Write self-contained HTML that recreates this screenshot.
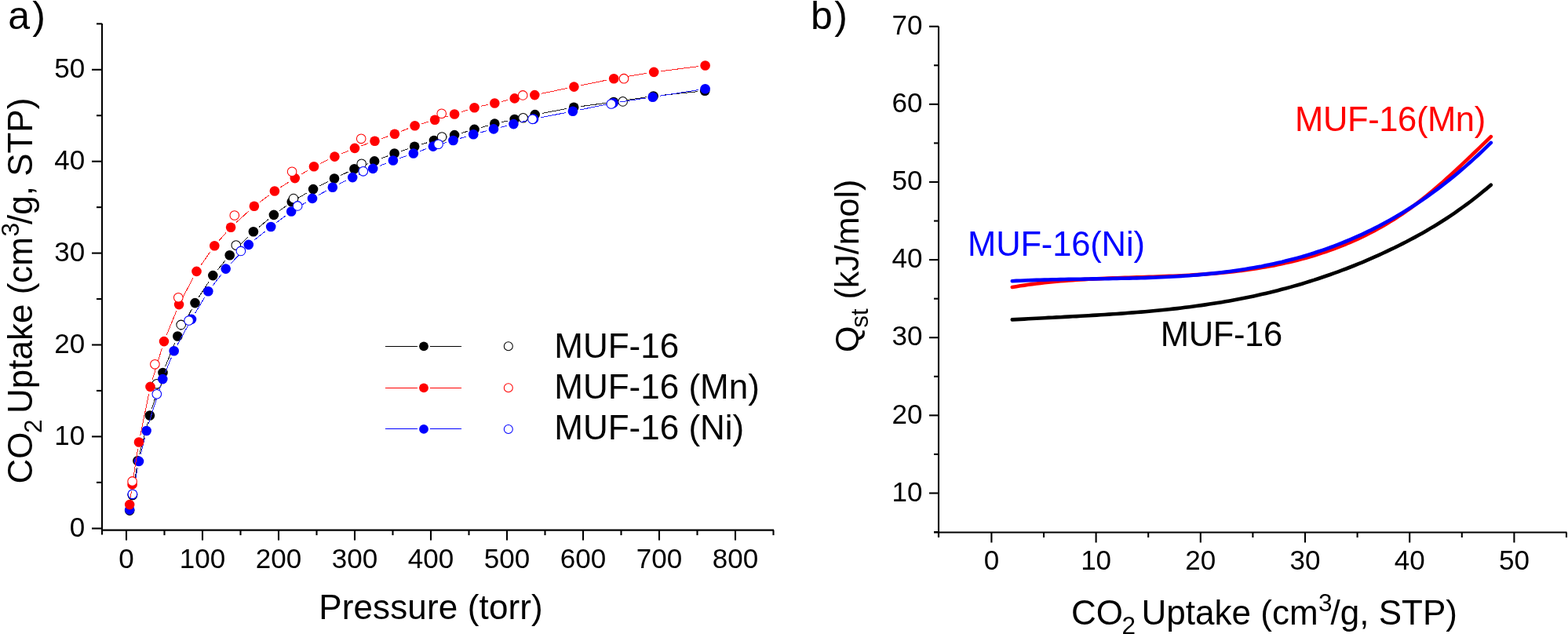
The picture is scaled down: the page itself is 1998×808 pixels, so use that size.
<!DOCTYPE html>
<html><head><meta charset="utf-8"><title>CO2 uptake and Qst plots</title>
<style>
html,body{margin:0;padding:0;background:#fff;}
svg{display:block;font-family:'Liberation Sans', Arial, Helvetica, sans-serif;}
</style></head>
<body>
<svg width="1998" height="808" viewBox="0 0 1998 808">
<rect x="0" y="0" width="1998" height="808" fill="#fff"/>
<line x1="130.00" y1="30.00" x2="130.00" y2="681.50" stroke="#000" stroke-width="2.1" stroke-linecap="butt"/>
<line x1="130.00" y1="675.60" x2="986.00" y2="675.60" stroke="#000" stroke-width="2.1" stroke-linecap="butt"/>
<line x1="117.00" y1="673.50" x2="130.00" y2="673.50" stroke="#000" stroke-width="2.1" stroke-linecap="butt"/>
<line x1="123.00" y1="614.85" x2="130.00" y2="614.85" stroke="#000" stroke-width="2.1" stroke-linecap="butt"/>
<line x1="117.00" y1="556.40" x2="130.00" y2="556.40" stroke="#000" stroke-width="2.1" stroke-linecap="butt"/>
<line x1="123.00" y1="497.95" x2="130.00" y2="497.95" stroke="#000" stroke-width="2.1" stroke-linecap="butt"/>
<line x1="117.00" y1="439.50" x2="130.00" y2="439.50" stroke="#000" stroke-width="2.1" stroke-linecap="butt"/>
<line x1="123.00" y1="381.05" x2="130.00" y2="381.05" stroke="#000" stroke-width="2.1" stroke-linecap="butt"/>
<line x1="117.00" y1="322.60" x2="130.00" y2="322.60" stroke="#000" stroke-width="2.1" stroke-linecap="butt"/>
<line x1="123.00" y1="264.15" x2="130.00" y2="264.15" stroke="#000" stroke-width="2.1" stroke-linecap="butt"/>
<line x1="117.00" y1="205.70" x2="130.00" y2="205.70" stroke="#000" stroke-width="2.1" stroke-linecap="butt"/>
<line x1="123.00" y1="147.25" x2="130.00" y2="147.25" stroke="#000" stroke-width="2.1" stroke-linecap="butt"/>
<line x1="117.00" y1="88.80" x2="130.00" y2="88.80" stroke="#000" stroke-width="2.1" stroke-linecap="butt"/>
<line x1="123.00" y1="30.35" x2="130.00" y2="30.35" stroke="#000" stroke-width="2.1" stroke-linecap="butt"/>
<line x1="161.00" y1="675.60" x2="161.00" y2="688.60" stroke="#000" stroke-width="2.1" stroke-linecap="butt"/>
<line x1="209.50" y1="675.60" x2="209.50" y2="682.10" stroke="#000" stroke-width="2.1" stroke-linecap="butt"/>
<line x1="258.00" y1="675.60" x2="258.00" y2="688.60" stroke="#000" stroke-width="2.1" stroke-linecap="butt"/>
<line x1="306.50" y1="675.60" x2="306.50" y2="682.10" stroke="#000" stroke-width="2.1" stroke-linecap="butt"/>
<line x1="355.00" y1="675.60" x2="355.00" y2="688.60" stroke="#000" stroke-width="2.1" stroke-linecap="butt"/>
<line x1="403.50" y1="675.60" x2="403.50" y2="682.10" stroke="#000" stroke-width="2.1" stroke-linecap="butt"/>
<line x1="452.00" y1="675.60" x2="452.00" y2="688.60" stroke="#000" stroke-width="2.1" stroke-linecap="butt"/>
<line x1="500.50" y1="675.60" x2="500.50" y2="682.10" stroke="#000" stroke-width="2.1" stroke-linecap="butt"/>
<line x1="549.00" y1="675.60" x2="549.00" y2="688.60" stroke="#000" stroke-width="2.1" stroke-linecap="butt"/>
<line x1="597.50" y1="675.60" x2="597.50" y2="682.10" stroke="#000" stroke-width="2.1" stroke-linecap="butt"/>
<line x1="646.00" y1="675.60" x2="646.00" y2="688.60" stroke="#000" stroke-width="2.1" stroke-linecap="butt"/>
<line x1="694.50" y1="675.60" x2="694.50" y2="682.10" stroke="#000" stroke-width="2.1" stroke-linecap="butt"/>
<line x1="743.00" y1="675.60" x2="743.00" y2="688.60" stroke="#000" stroke-width="2.1" stroke-linecap="butt"/>
<line x1="791.50" y1="675.60" x2="791.50" y2="682.10" stroke="#000" stroke-width="2.1" stroke-linecap="butt"/>
<line x1="840.00" y1="675.60" x2="840.00" y2="688.60" stroke="#000" stroke-width="2.1" stroke-linecap="butt"/>
<line x1="888.50" y1="675.60" x2="888.50" y2="682.10" stroke="#000" stroke-width="2.1" stroke-linecap="butt"/>
<line x1="937.00" y1="675.60" x2="937.00" y2="688.60" stroke="#000" stroke-width="2.1" stroke-linecap="butt"/>
<line x1="985.50" y1="675.60" x2="985.50" y2="682.10" stroke="#000" stroke-width="2.1" stroke-linecap="butt"/>
<text x="108.30" y="683.80" font-size="35" text-anchor="end" fill="#000" >0</text>
<text x="108.30" y="566.90" font-size="35" text-anchor="end" fill="#000" >10</text>
<text x="108.30" y="450.00" font-size="35" text-anchor="end" fill="#000" >20</text>
<text x="108.30" y="333.10" font-size="35" text-anchor="end" fill="#000" >30</text>
<text x="108.30" y="216.20" font-size="35" text-anchor="end" fill="#000" >40</text>
<text x="108.30" y="99.30" font-size="35" text-anchor="end" fill="#000" >50</text>
<text x="161.00" y="723.90" font-size="35" text-anchor="middle" fill="#000" >0</text>
<text x="258.00" y="723.90" font-size="35" text-anchor="middle" fill="#000" >100</text>
<text x="355.00" y="723.90" font-size="35" text-anchor="middle" fill="#000" >200</text>
<text x="452.00" y="723.90" font-size="35" text-anchor="middle" fill="#000" >300</text>
<text x="549.00" y="723.90" font-size="35" text-anchor="middle" fill="#000" >400</text>
<text x="646.00" y="723.90" font-size="35" text-anchor="middle" fill="#000" >500</text>
<text x="743.00" y="723.90" font-size="35" text-anchor="middle" fill="#000" >600</text>
<text x="840.00" y="723.90" font-size="35" text-anchor="middle" fill="#000" >700</text>
<text x="937.00" y="723.90" font-size="35" text-anchor="middle" fill="#000" >800</text>
<text x="406.20" y="789.20" font-size="44" text-anchor="start" fill="#000" letter-spacing="0.14">Pressure (torr)</text>
<g transform="translate(40.6,614.6) rotate(-90)"><text x="-2" y="0" font-size="44">CO</text><text x="62.6" y="12.1" font-size="31.5">2</text><text x="87.6" y="0" font-size="44">Uptake (cm</text><text x="313.1" y="-17" font-size="31.5">3</text><text x="328.6" y="0" font-size="44">/g, STP)</text></g>
<text x="10.25" y="36.60" font-size="50" text-anchor="start" fill="#000" >a</text>
<text x="41.30" y="36.60" font-size="50" text-anchor="start" fill="#000" >)</text>
<line x1="1196.00" y1="33.50" x2="1196.00" y2="684.50" stroke="#000" stroke-width="2.1" stroke-linecap="butt"/>
<line x1="1190.00" y1="678.50" x2="1996.50" y2="678.50" stroke="#000" stroke-width="2.1" stroke-linecap="butt"/>
<line x1="1190.00" y1="678.07" x2="1196.00" y2="678.07" stroke="#000" stroke-width="2.1" stroke-linecap="butt"/>
<line x1="1184.00" y1="628.50" x2="1196.00" y2="628.50" stroke="#000" stroke-width="2.1" stroke-linecap="butt"/>
<line x1="1190.00" y1="578.93" x2="1196.00" y2="578.93" stroke="#000" stroke-width="2.1" stroke-linecap="butt"/>
<line x1="1184.00" y1="529.37" x2="1196.00" y2="529.37" stroke="#000" stroke-width="2.1" stroke-linecap="butt"/>
<line x1="1190.00" y1="479.81" x2="1196.00" y2="479.81" stroke="#000" stroke-width="2.1" stroke-linecap="butt"/>
<line x1="1184.00" y1="430.24" x2="1196.00" y2="430.24" stroke="#000" stroke-width="2.1" stroke-linecap="butt"/>
<line x1="1190.00" y1="380.67" x2="1196.00" y2="380.67" stroke="#000" stroke-width="2.1" stroke-linecap="butt"/>
<line x1="1184.00" y1="331.11" x2="1196.00" y2="331.11" stroke="#000" stroke-width="2.1" stroke-linecap="butt"/>
<line x1="1190.00" y1="281.55" x2="1196.00" y2="281.55" stroke="#000" stroke-width="2.1" stroke-linecap="butt"/>
<line x1="1184.00" y1="231.98" x2="1196.00" y2="231.98" stroke="#000" stroke-width="2.1" stroke-linecap="butt"/>
<line x1="1190.00" y1="182.41" x2="1196.00" y2="182.41" stroke="#000" stroke-width="2.1" stroke-linecap="butt"/>
<line x1="1184.00" y1="132.85" x2="1196.00" y2="132.85" stroke="#000" stroke-width="2.1" stroke-linecap="butt"/>
<line x1="1190.00" y1="83.28" x2="1196.00" y2="83.28" stroke="#000" stroke-width="2.1" stroke-linecap="butt"/>
<line x1="1184.00" y1="33.72" x2="1196.00" y2="33.72" stroke="#000" stroke-width="2.1" stroke-linecap="butt"/>
<line x1="1196.00" y1="678.50" x2="1196.00" y2="685.00" stroke="#000" stroke-width="2.1" stroke-linecap="butt"/>
<line x1="1263.40" y1="678.50" x2="1263.40" y2="691.50" stroke="#000" stroke-width="2.1" stroke-linecap="butt"/>
<line x1="1330.00" y1="678.50" x2="1330.00" y2="685.00" stroke="#000" stroke-width="2.1" stroke-linecap="butt"/>
<line x1="1396.60" y1="678.50" x2="1396.60" y2="691.50" stroke="#000" stroke-width="2.1" stroke-linecap="butt"/>
<line x1="1463.20" y1="678.50" x2="1463.20" y2="685.00" stroke="#000" stroke-width="2.1" stroke-linecap="butt"/>
<line x1="1529.80" y1="678.50" x2="1529.80" y2="691.50" stroke="#000" stroke-width="2.1" stroke-linecap="butt"/>
<line x1="1596.40" y1="678.50" x2="1596.40" y2="685.00" stroke="#000" stroke-width="2.1" stroke-linecap="butt"/>
<line x1="1663.00" y1="678.50" x2="1663.00" y2="691.50" stroke="#000" stroke-width="2.1" stroke-linecap="butt"/>
<line x1="1729.60" y1="678.50" x2="1729.60" y2="685.00" stroke="#000" stroke-width="2.1" stroke-linecap="butt"/>
<line x1="1796.20" y1="678.50" x2="1796.20" y2="691.50" stroke="#000" stroke-width="2.1" stroke-linecap="butt"/>
<line x1="1862.80" y1="678.50" x2="1862.80" y2="685.00" stroke="#000" stroke-width="2.1" stroke-linecap="butt"/>
<line x1="1929.40" y1="678.50" x2="1929.40" y2="691.50" stroke="#000" stroke-width="2.1" stroke-linecap="butt"/>
<line x1="1996.00" y1="678.50" x2="1996.00" y2="685.00" stroke="#000" stroke-width="2.1" stroke-linecap="butt"/>
<text x="1175.50" y="638.70" font-size="35" text-anchor="end" fill="#000" >10</text>
<text x="1175.50" y="539.57" font-size="35" text-anchor="end" fill="#000" >20</text>
<text x="1175.50" y="440.44" font-size="35" text-anchor="end" fill="#000" >30</text>
<text x="1175.50" y="341.31" font-size="35" text-anchor="end" fill="#000" >40</text>
<text x="1175.50" y="242.18" font-size="35" text-anchor="end" fill="#000" >50</text>
<text x="1175.50" y="143.05" font-size="35" text-anchor="end" fill="#000" >60</text>
<text x="1175.50" y="43.92" font-size="35" text-anchor="end" fill="#000" >70</text>
<text x="1263.40" y="726.00" font-size="35" text-anchor="middle" fill="#000" >0</text>
<text x="1396.60" y="726.00" font-size="35" text-anchor="middle" fill="#000" >10</text>
<text x="1529.80" y="726.00" font-size="35" text-anchor="middle" fill="#000" >20</text>
<text x="1663.00" y="726.00" font-size="35" text-anchor="middle" fill="#000" >30</text>
<text x="1796.20" y="726.00" font-size="35" text-anchor="middle" fill="#000" >40</text>
<text x="1929.40" y="726.00" font-size="35" text-anchor="middle" fill="#000" >50</text>
<g transform="translate(1367,795.9)"><text x="-2" y="0" font-size="44">CO</text><text x="62.6" y="12.1" font-size="31.5">2</text><text x="87.6" y="0" font-size="44">Uptake (cm</text><text x="313.1" y="-17" font-size="31.5">3</text><text x="328.6" y="0" font-size="44">/g, STP)</text></g>
<g transform="translate(1094.3,446.9) rotate(-90)"><text x="-2" y="0" font-size="43">Q</text><text x="29.4" y="11.2" font-size="31">st</text><text x="65.3" y="0" font-size="43">(kJ/mol)</text></g>
<text x="1033.10" y="36.60" font-size="50" text-anchor="start" fill="#000" >b</text>
<text x="1063.30" y="36.60" font-size="50" text-anchor="start" fill="#000" >)</text>
<polyline points="1289.8,407.4 1294.9,407.1 1300.1,406.9 1305.2,406.6 1310.3,406.3 1315.4,406.0 1320.6,405.7 1325.7,405.5 1330.8,405.2 1335.9,404.9 1341.1,404.7 1346.2,404.4 1351.3,404.2 1356.4,403.9 1361.6,403.6 1366.7,403.3 1371.8,403.1 1376.9,402.8 1382.1,402.5 1387.2,402.2 1392.3,401.9 1397.4,401.6 1402.6,401.3 1407.7,401.0 1412.8,400.6 1418.0,400.3 1423.1,400.0 1428.2,399.6 1433.3,399.2 1438.5,398.8 1443.6,398.4 1448.7,398.0 1453.8,397.6 1459.0,397.2 1464.1,396.7 1469.2,396.3 1474.3,395.8 1479.5,395.3 1484.6,394.7 1489.7,394.2 1494.8,393.6 1500.0,393.1 1505.1,392.5 1510.2,391.8 1515.3,391.2 1520.5,390.5 1525.6,389.8 1530.7,389.1 1535.9,388.4 1541.0,387.6 1546.1,386.8 1551.2,386.0 1556.4,385.2 1561.5,384.3 1566.6,383.4 1571.7,382.5 1576.9,381.5 1582.0,380.5 1587.1,379.5 1592.2,378.5 1597.4,377.4 1602.5,376.3 1607.6,375.1 1612.7,373.9 1617.9,372.7 1623.0,371.4 1628.1,370.2 1633.2,368.8 1638.4,367.5 1643.5,366.1 1648.6,364.6 1653.7,363.2 1658.9,361.7 1664.0,360.1 1669.1,358.5 1674.3,356.9 1679.4,355.2 1684.5,353.5 1689.6,351.8 1694.8,350.0 1699.9,348.2 1705.0,346.3 1710.1,344.4 1715.3,342.5 1720.4,340.5 1725.5,338.5 1730.6,336.4 1735.8,334.3 1740.9,332.1 1746.0,329.9 1751.1,327.7 1756.3,325.4 1761.4,323.0 1766.5,320.6 1771.6,318.2 1776.8,315.7 1781.9,313.2 1787.0,310.6 1792.2,308.0 1797.3,305.3 1802.4,302.6 1807.5,299.8 1812.7,296.9 1817.8,294.0 1822.9,290.9 1828.0,287.9 1833.2,284.7 1838.3,281.5 1843.4,278.2 1848.5,274.8 1853.7,271.3 1858.8,267.7 1863.9,264.0 1869.0,260.3 1874.2,256.5 1879.3,252.5 1884.4,248.5 1889.5,244.3 1894.7,240.1 1899.8,235.7" fill="none" stroke="#000" stroke-width="4.6" stroke-linecap="round" stroke-linejoin="round"/>
<polyline points="1289.8,366.0 1294.9,365.2 1300.1,364.3 1305.2,363.6 1310.3,362.8 1315.4,362.1 1320.6,361.5 1325.7,360.9 1330.8,360.3 1335.9,359.7 1341.1,359.2 1346.2,358.7 1351.3,358.3 1356.4,357.9 1361.6,357.5 1366.7,357.1 1371.8,356.7 1376.9,356.4 1382.1,356.1 1387.2,355.8 1392.3,355.6 1397.4,355.3 1402.6,355.1 1407.7,354.8 1412.8,354.6 1418.0,354.4 1423.1,354.2 1428.2,354.1 1433.3,353.9 1438.5,353.7 1443.6,353.5 1448.7,353.4 1453.8,353.2 1459.0,353.0 1464.1,352.9 1469.2,352.7 1474.3,352.5 1479.5,352.3 1484.6,352.1 1489.7,351.9 1494.8,351.7 1500.0,351.5 1505.1,351.2 1510.2,351.0 1515.3,350.7 1520.5,350.4 1525.6,350.1 1530.7,349.7 1535.9,349.4 1541.0,349.0 1546.1,348.6 1551.2,348.2 1556.4,347.7 1561.5,347.2 1566.6,346.7 1571.7,346.1 1576.9,345.5 1582.0,344.9 1587.1,344.2 1592.2,343.5 1597.4,342.8 1602.5,342.0 1607.6,341.1 1612.7,340.3 1617.9,339.3 1623.0,338.4 1628.1,337.3 1633.2,336.3 1638.4,335.1 1643.5,334.0 1648.6,332.7 1653.7,331.4 1658.9,330.1 1664.0,328.7 1669.1,327.2 1674.3,325.7 1679.4,324.1 1684.5,322.4 1689.6,320.7 1694.8,318.9 1699.9,317.0 1705.0,315.1 1710.1,313.1 1715.3,311.0 1720.4,308.8 1725.5,306.6 1730.6,304.3 1735.8,301.9 1740.9,299.4 1746.0,296.8 1751.1,294.1 1756.3,291.3 1761.4,288.4 1766.5,285.5 1771.6,282.4 1776.8,279.2 1781.9,275.9 1787.0,272.5 1792.2,268.9 1797.3,265.3 1802.4,261.5 1807.5,257.6 1812.7,253.6 1817.8,249.5 1822.9,245.3 1828.0,241.0 1833.2,236.6 1838.3,232.1 1843.4,227.5 1848.5,222.9 1853.7,218.2 1858.8,213.5 1863.9,208.7 1869.0,203.8 1874.2,198.9 1879.3,194.0 1884.4,189.1 1889.5,184.1 1894.7,179.1 1899.8,174.2" fill="none" stroke="#f00" stroke-width="4.6" stroke-linecap="round" stroke-linejoin="round"/>
<polyline points="1289.8,358.2 1294.9,357.9 1300.1,357.7 1305.2,357.5 1310.3,357.3 1315.4,357.1 1320.6,356.9 1325.7,356.7 1330.8,356.6 1335.9,356.5 1341.1,356.3 1346.2,356.2 1351.3,356.1 1356.4,356.0 1361.6,355.9 1366.7,355.8 1371.8,355.7 1376.9,355.7 1382.1,355.6 1387.2,355.5 1392.3,355.4 1397.4,355.4 1402.6,355.3 1407.7,355.2 1412.8,355.1 1418.0,355.0 1423.1,354.9 1428.2,354.8 1433.3,354.7 1438.5,354.6 1443.6,354.5 1448.7,354.4 1453.8,354.2 1459.0,354.1 1464.1,353.9 1469.2,353.7 1474.3,353.5 1479.5,353.3 1484.6,353.0 1489.7,352.8 1494.8,352.5 1500.0,352.2 1505.1,351.9 1510.2,351.5 1515.3,351.2 1520.5,350.8 1525.6,350.4 1530.7,349.9 1535.9,349.4 1541.0,348.9 1546.1,348.4 1551.2,347.9 1556.4,347.3 1561.5,346.6 1566.6,346.0 1571.7,345.3 1576.9,344.6 1582.0,343.8 1587.1,343.0 1592.2,342.1 1597.4,341.2 1602.5,340.3 1607.6,339.4 1612.7,338.3 1617.9,337.3 1623.0,336.2 1628.1,335.0 1633.2,333.9 1638.4,332.6 1643.5,331.3 1648.6,330.0 1653.7,328.6 1658.9,327.2 1664.0,325.7 1669.1,324.1 1674.3,322.5 1679.4,320.8 1684.5,319.1 1689.6,317.3 1694.8,315.5 1699.9,313.6 1705.0,311.7 1710.1,309.6 1715.3,307.5 1720.4,305.4 1725.5,303.2 1730.6,300.9 1735.8,298.6 1740.9,296.1 1746.0,293.7 1751.1,291.1 1756.3,288.5 1761.4,285.8 1766.5,283.0 1771.6,280.2 1776.8,277.2 1781.9,274.2 1787.0,271.2 1792.2,268.0 1797.3,264.8 1802.4,261.5 1807.5,258.1 1812.7,254.6 1817.8,251.0 1822.9,247.4 1828.0,243.7 1833.2,239.8 1838.3,235.9 1843.4,231.9 1848.5,227.9 1853.7,223.7 1858.8,219.4 1863.9,215.1 1869.0,210.6 1874.2,206.1 1879.3,201.4 1884.4,196.7 1889.5,191.8 1894.7,186.9 1899.8,181.9" fill="none" stroke="#00f" stroke-width="4.6" stroke-linecap="round" stroke-linejoin="round"/>
<text x="1650.10" y="166.80" font-size="43.5" text-anchor="start" fill="#f00" letter-spacing="-0.38">MUF-16(Mn)</text>
<text x="1233.10" y="325.50" font-size="43.5" text-anchor="start" fill="#00f" letter-spacing="-0.15">MUF-16(Ni)</text>
<text x="1478.80" y="440.90" font-size="43.5" text-anchor="start" fill="#000" letter-spacing="-0.35">MUF-16</text>
<path d="M166.87,641.76L167.23,639.84M170.24,622.10L174.16,596.20M177.82,578.60L188.58,538.20M193.52,520.89L204.88,483.61M210.87,466.66L222.93,436.84M230.47,420.53L244.33,394.07M253.41,378.56L266.39,358.64M277.03,344.16L286.97,332.14M299.10,318.87L316.50,301.63M329.85,289.58L341.95,279.62M356.17,268.60L364.53,262.50M379.55,252.63L391.35,245.67M407.13,237.04L417.97,231.56M434.11,223.59L443.39,219.11M459.91,211.98L468.69,208.62M485.49,202.14L494.21,198.76M511.12,192.60L519.68,189.70M536.79,184.10L544.41,181.70M561.70,176.70L570.40,174.40M587.76,169.65L595.84,167.35M613.16,162.45L621.64,160.05M639.09,155.66L646.91,153.94M664.48,150.01L672.92,148.09M690.55,144.44L722.35,138.46M740.12,135.60L772.98,131.20M790.80,128.68L823.70,123.82M841.55,121.57L889.25,116.63" stroke="#222" stroke-width="1.0" fill="none" shape-rendering="crispEdges"/>
<circle cx="165.2" cy="650.6" r="6.3" fill="#000"/>
<circle cx="168.9" cy="631" r="6.3" fill="#000"/>
<circle cx="175.5" cy="587.3" r="6.3" fill="#000"/>
<circle cx="190.9" cy="529.5" r="6.3" fill="#000"/>
<circle cx="207.5" cy="475" r="6.3" fill="#000"/>
<circle cx="226.3" cy="428.5" r="6.3" fill="#000"/>
<circle cx="248.5" cy="386.1" r="6.3" fill="#000"/>
<circle cx="271.3" cy="351.1" r="6.3" fill="#000"/>
<circle cx="292.7" cy="325.2" r="6.3" fill="#000"/>
<circle cx="322.9" cy="295.3" r="6.3" fill="#000"/>
<circle cx="348.9" cy="273.9" r="6.3" fill="#000"/>
<circle cx="371.8" cy="257.2" r="6.3" fill="#000"/>
<circle cx="399.1" cy="241.1" r="6.3" fill="#000"/>
<circle cx="426" cy="227.5" r="6.3" fill="#000"/>
<circle cx="451.5" cy="215.2" r="6.3" fill="#000"/>
<circle cx="477.1" cy="205.4" r="6.3" fill="#000"/>
<circle cx="502.6" cy="195.5" r="6.3" fill="#000"/>
<circle cx="528.2" cy="186.8" r="6.3" fill="#000"/>
<circle cx="553" cy="179" r="6.3" fill="#000"/>
<circle cx="579.1" cy="172.1" r="6.3" fill="#000"/>
<circle cx="604.5" cy="164.9" r="6.3" fill="#000"/>
<circle cx="630.3" cy="157.6" r="6.3" fill="#000"/>
<circle cx="655.7" cy="152" r="6.3" fill="#000"/>
<circle cx="681.7" cy="146.1" r="6.3" fill="#000"/>
<circle cx="731.2" cy="136.8" r="6.3" fill="#000"/>
<circle cx="781.9" cy="130" r="6.3" fill="#000"/>
<circle cx="832.6" cy="122.5" r="6.3" fill="#000"/>
<circle cx="898.2" cy="115.7" r="6.3" fill="#000"/>
<circle cx="168.9" cy="630.8" r="5.8" fill="#fff" stroke="#000" stroke-width="1.05"/>
<circle cx="199.7" cy="489.3" r="5.8" fill="#fff" stroke="#000" stroke-width="1.05"/>
<circle cx="230.7" cy="413.9" r="5.8" fill="#fff" stroke="#000" stroke-width="1.05"/>
<circle cx="300.8" cy="312.5" r="5.8" fill="#fff" stroke="#000" stroke-width="1.05"/>
<circle cx="374" cy="253.1" r="5.8" fill="#fff" stroke="#000" stroke-width="1.05"/>
<circle cx="460.7" cy="208.8" r="5.8" fill="#fff" stroke="#000" stroke-width="1.05"/>
<circle cx="563.1" cy="174.5" r="5.8" fill="#fff" stroke="#000" stroke-width="1.05"/>
<circle cx="666.6" cy="150.2" r="5.8" fill="#fff" stroke="#000" stroke-width="1.05"/>
<circle cx="793.6" cy="129.4" r="5.8" fill="#fff" stroke="#000" stroke-width="1.05"/>
<path d="M166.87,640.76L167.23,638.84M170.60,621.16L175.30,596.74M179.16,579.16L184.44,557.74M189.30,540.41L204.60,491.69M210.65,474.75L218.35,455.55M226.06,439.33L239.64,414.77M248.62,399.18L260.68,379.02M270.84,364.21L282.16,349.69M293.89,336.07L310.61,318.43M323.81,306.25L338.19,294.65M352.40,283.60L364.00,274.90M378.85,264.76L390.35,257.64M405.90,248.58L415.90,243.12M431.85,234.78L441.15,230.12M457.47,222.54L466.93,218.46M483.54,211.52L492.56,207.88M509.40,201.55L518.30,198.45M535.28,192.49L543.42,189.61M560.53,184.04L568.87,181.56M586.12,176.42L594.58,173.88M611.89,168.97L620.31,166.73M637.74,162.23L645.66,160.27M663.12,155.89L671.28,153.81M688.83,149.87L721.07,143.53M738.72,140.01L772.68,133.09M790.40,129.95L822.80,125.05M840.59,122.30L889.71,114.60" stroke="#22f" stroke-width="1.0" fill="none" shape-rendering="crispEdges"/>
<circle cx="165.2" cy="649.6" r="6.3" fill="#00f"/>
<circle cx="168.9" cy="630" r="6.3" fill="#00f"/>
<circle cx="177" cy="587.9" r="6.3" fill="#00f"/>
<circle cx="186.6" cy="549" r="6.3" fill="#00f"/>
<circle cx="207.3" cy="483.1" r="6.3" fill="#00f"/>
<circle cx="221.7" cy="447.2" r="6.3" fill="#00f"/>
<circle cx="244" cy="406.9" r="6.3" fill="#00f"/>
<circle cx="265.3" cy="371.3" r="6.3" fill="#00f"/>
<circle cx="287.7" cy="342.6" r="6.3" fill="#00f"/>
<circle cx="316.8" cy="311.9" r="6.3" fill="#00f"/>
<circle cx="345.2" cy="289" r="6.3" fill="#00f"/>
<circle cx="371.2" cy="269.5" r="6.3" fill="#00f"/>
<circle cx="398" cy="252.9" r="6.3" fill="#00f"/>
<circle cx="423.8" cy="238.8" r="6.3" fill="#00f"/>
<circle cx="449.2" cy="226.1" r="6.3" fill="#00f"/>
<circle cx="475.2" cy="214.9" r="6.3" fill="#00f"/>
<circle cx="500.9" cy="204.5" r="6.3" fill="#00f"/>
<circle cx="526.8" cy="195.5" r="6.3" fill="#00f"/>
<circle cx="551.9" cy="186.6" r="6.3" fill="#00f"/>
<circle cx="577.5" cy="179" r="6.3" fill="#00f"/>
<circle cx="603.2" cy="171.3" r="6.3" fill="#00f"/>
<circle cx="629" cy="164.4" r="6.3" fill="#00f"/>
<circle cx="654.4" cy="158.1" r="6.3" fill="#00f"/>
<circle cx="680" cy="151.6" r="6.3" fill="#00f"/>
<circle cx="729.9" cy="141.8" r="6.3" fill="#00f"/>
<circle cx="781.5" cy="131.3" r="6.3" fill="#00f"/>
<circle cx="831.7" cy="123.7" r="6.3" fill="#00f"/>
<circle cx="898.6" cy="113.2" r="6.3" fill="#00f"/>
<circle cx="168.9" cy="629.7" r="5.8" fill="#fff" stroke="#00f" stroke-width="1.05"/>
<circle cx="199.8" cy="502.2" r="5.8" fill="#fff" stroke="#00f" stroke-width="1.05"/>
<circle cx="240.6" cy="408.5" r="5.8" fill="#fff" stroke="#00f" stroke-width="1.05"/>
<circle cx="306.9" cy="319.9" r="5.8" fill="#fff" stroke="#00f" stroke-width="1.05"/>
<circle cx="379.2" cy="262.4" r="5.8" fill="#fff" stroke="#00f" stroke-width="1.05"/>
<circle cx="462.8" cy="218.3" r="5.8" fill="#fff" stroke="#00f" stroke-width="1.05"/>
<circle cx="558.6" cy="183.7" r="5.8" fill="#fff" stroke="#00f" stroke-width="1.05"/>
<circle cx="678.5" cy="151.8" r="5.8" fill="#fff" stroke="#00f" stroke-width="1.05"/>
<circle cx="778.8" cy="132.5" r="5.8" fill="#fff" stroke="#00f" stroke-width="1.05"/>
<path d="M166.38,634.18L167.42,626.32M169.99,608.51L175.61,572.39M178.81,554.68L189.69,501.72M194.11,484.29L206.39,443.71M212.39,426.76L224.71,396.44M232.32,380.15L246.28,353.85M255.65,338.52L268.15,320.58M279.27,306.46L288.13,296.44M300.78,283.67L317.22,268.83M331.13,257.44L342.67,248.86M357.50,238.69L368.20,231.91M383.48,222.40L392.32,217.00M408.11,208.40L418.29,203.50M434.70,196.13L443.70,192.37M460.47,185.85L469.03,182.75M485.98,176.69L494.42,173.71M511.24,167.32L520.26,163.68M537.23,157.76L545.47,155.34M562.74,150.28L570.46,148.02M587.65,142.70L595.95,140.00M613.29,135.26L621.51,133.44M639.05,129.40L646.95,127.50M664.58,123.91L672.42,122.59M690.11,119.25L722.59,112.45M740.22,108.79L773.38,102.01M791.08,98.75L824.32,93.35M842.13,90.75L889.67,84.65" stroke="#f22" stroke-width="1.0" fill="none" shape-rendering="crispEdges"/>
<circle cx="165.2" cy="643.1" r="6.3" fill="#f00"/>
<circle cx="168.6" cy="617.4" r="6.3" fill="#f00"/>
<circle cx="177" cy="563.5" r="6.3" fill="#f00"/>
<circle cx="191.5" cy="492.9" r="6.3" fill="#f00"/>
<circle cx="209" cy="435.1" r="6.3" fill="#f00"/>
<circle cx="228.1" cy="388.1" r="6.3" fill="#f00"/>
<circle cx="250.5" cy="345.9" r="6.3" fill="#f00"/>
<circle cx="273.3" cy="313.2" r="6.3" fill="#f00"/>
<circle cx="294.1" cy="289.7" r="6.3" fill="#f00"/>
<circle cx="323.9" cy="262.8" r="6.3" fill="#f00"/>
<circle cx="349.9" cy="243.5" r="6.3" fill="#f00"/>
<circle cx="375.8" cy="227.1" r="6.3" fill="#f00"/>
<circle cx="400" cy="212.3" r="6.3" fill="#f00"/>
<circle cx="426.4" cy="199.6" r="6.3" fill="#f00"/>
<circle cx="452" cy="188.9" r="6.3" fill="#f00"/>
<circle cx="477.5" cy="179.7" r="6.3" fill="#f00"/>
<circle cx="502.9" cy="170.7" r="6.3" fill="#f00"/>
<circle cx="528.6" cy="160.3" r="6.3" fill="#f00"/>
<circle cx="554.1" cy="152.8" r="6.3" fill="#f00"/>
<circle cx="579.1" cy="145.5" r="6.3" fill="#f00"/>
<circle cx="604.5" cy="137.2" r="6.3" fill="#f00"/>
<circle cx="630.3" cy="131.5" r="6.3" fill="#f00"/>
<circle cx="655.7" cy="125.4" r="6.3" fill="#f00"/>
<circle cx="681.3" cy="121.1" r="6.3" fill="#f00"/>
<circle cx="731.4" cy="110.6" r="6.3" fill="#f00"/>
<circle cx="782.2" cy="100.2" r="6.3" fill="#f00"/>
<circle cx="833.2" cy="91.9" r="6.3" fill="#f00"/>
<circle cx="898.6" cy="83.5" r="6.3" fill="#f00"/>
<circle cx="168.6" cy="613.4" r="5.8" fill="#fff" stroke="#f00" stroke-width="1.05"/>
<circle cx="197.4" cy="464.3" r="5.8" fill="#fff" stroke="#f00" stroke-width="1.05"/>
<circle cx="227.3" cy="379.2" r="5.8" fill="#fff" stroke="#f00" stroke-width="1.05"/>
<circle cx="298.8" cy="274.5" r="5.8" fill="#fff" stroke="#f00" stroke-width="1.05"/>
<circle cx="372.1" cy="218.8" r="5.8" fill="#fff" stroke="#f00" stroke-width="1.05"/>
<circle cx="460.2" cy="176.8" r="5.8" fill="#fff" stroke="#f00" stroke-width="1.05"/>
<circle cx="562.7" cy="144.7" r="5.8" fill="#fff" stroke="#f00" stroke-width="1.05"/>
<circle cx="666.2" cy="121.4" r="5.8" fill="#fff" stroke="#f00" stroke-width="1.05"/>
<circle cx="795" cy="100.2" r="5.8" fill="#fff" stroke="#f00" stroke-width="1.05"/>
<path d="M491,441.3H532M548.3,441.3H588.4" stroke="#000" stroke-width="1.1" fill="none" shape-rendering="crispEdges"/>
<circle cx="540" cy="441.3" r="5.9" fill="#000"/>
<circle cx="647.8" cy="441.3" r="5.5" fill="#fff" stroke="#000" stroke-width="1.05"/>
<text x="706.30" y="455.70" font-size="44" text-anchor="start" fill="#000" >MUF-16</text>
<path d="M491,494.3H532M548.3,494.3H588.4" stroke="#f00" stroke-width="1.1" fill="none" shape-rendering="crispEdges"/>
<circle cx="540" cy="494.3" r="5.9" fill="#f00"/>
<circle cx="647.8" cy="494.3" r="5.5" fill="#fff" stroke="#f00" stroke-width="1.05"/>
<text x="706.30" y="508.00" font-size="44" text-anchor="start" fill="#000" >MUF-16 (Mn)</text>
<path d="M491,546.9H532M548.3,546.9H588.4" stroke="#00f" stroke-width="1.1" fill="none" shape-rendering="crispEdges"/>
<circle cx="540" cy="546.9" r="5.9" fill="#00f"/>
<circle cx="647.8" cy="546.9" r="5.5" fill="#fff" stroke="#00f" stroke-width="1.05"/>
<text x="706.30" y="560.30" font-size="44" text-anchor="start" fill="#000" >MUF-16 (Ni)</text>
</svg>
</body></html>
